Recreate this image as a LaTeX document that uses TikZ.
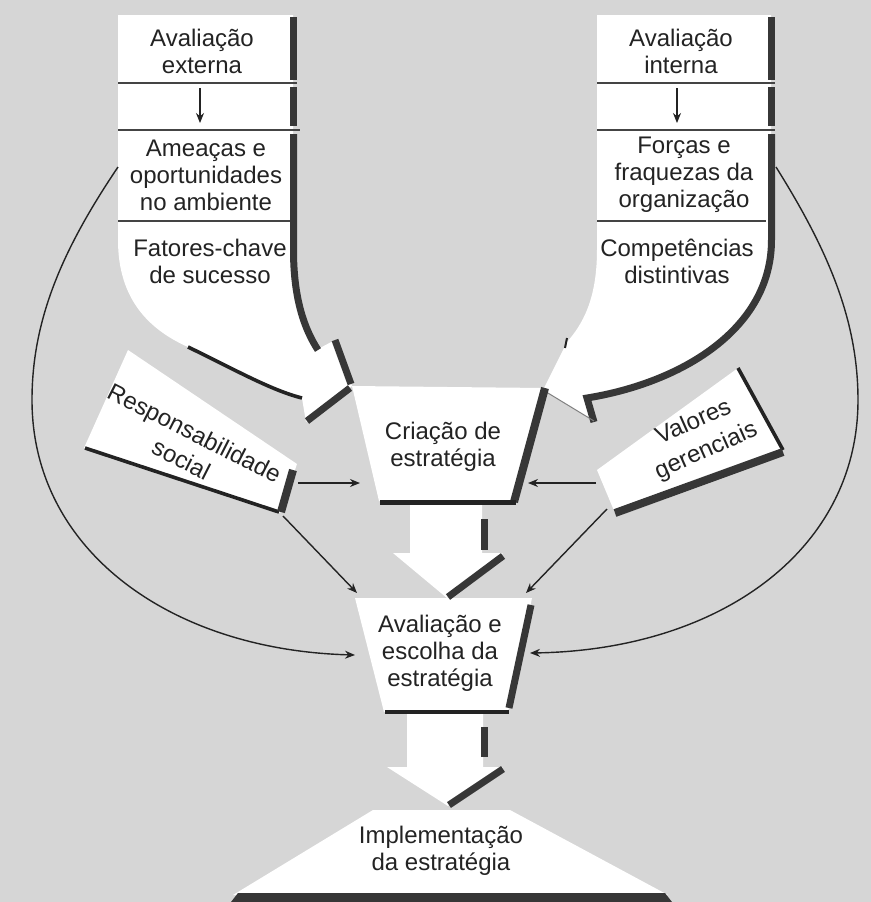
\documentclass[tikz,border=0pt]{standalone}
\usepackage{fontspec}
\setmainfont{Liberation Sans}
\usepackage{xcolor}
\usepackage{tikz}
\usetikzlibrary{arrows.meta}
\definecolor{paper}{RGB}{214,214,214}
\definecolor{ink}{RGB}{35,35,35}
\definecolor{dark}{RGB}{55,55,55}

\begin{document}
\begin{tikzpicture}[x=0.5pt, y=-0.5pt, font=\fontsize{12}{13.5}\selectfont,
  lbl/.style={align=center, text=ink, inner sep=0pt},
  shadowbar/.style={draw=dark, line width=3.5pt},
  rim/.style={draw=ink, line width=1.8pt},
  divider/.style={draw=ink!85, line width=1pt},
  link/.style={draw=ink, line width=0.7pt, -{Stealth[length=5pt, width=4pt]}}]
  \useasboundingbox (0,0) rectangle (871,902);
  \fill[paper] (0,0) rectangle (871,902);

  % white shapes
  \fill[white] (118,15) -- (293,15) -- (293,250) .. controls (293,300) and (305,330) .. (320,348)
    -- (335,340) -- (352,386) -- (306,422) -- (302,398)
    .. controls (270,390) and (230,367) .. (188,347)
    .. controls (150,330) and (118,300) .. (118,240) -- cycle;
  \fill[white] (597,15) -- (771,15) -- (771,240) .. controls (771,330) and (680,382) .. (588,397)
    -- (595,422) -- (543,390) -- (567,342) .. controls (582,325) and (597,300) .. (597,250) -- cycle;
  \fill[white] (352,386) -- (545,388) -- (514,501) -- (379,501) -- cycle;
  \fill[white] (410,501) -- (482,501) -- (482,553) -- (503,553) -- (447,598) -- (393,553) -- (410,553) -- cycle;
  \fill[white] (355,598) -- (532,598) -- (508,712) -- (384,712) -- cycle;
  \fill[white] (407,712) -- (483,712) -- (483,767) -- (503,767) -- (448,806) -- (387,767) -- (407,767) -- cycle;
  \fill[white] (373,810) -- (510,810) -- (668,895) -- (233,895) -- cycle;
  \fill[white] (128,350) -- (297,464) -- (280,513) -- (84,448) -- cycle;
  \fill[white] (597,470) -- (738,368) -- (783,450) -- (615,513) -- cycle;

  % shadows
  \foreach \x in {293.5, 771.5} {
    \draw[shadowbar] (\x,17) -- (\x,80);
    \draw[shadowbar] (\x,87) -- (\x,126);
  }
  \draw[shadowbar] (293.5,134) -- (293.5,250) .. controls (293.5,300) and (305,330) .. (318,350);
  \draw[shadowbar] (335,340) -- (351,384);
  \draw[shadowbar] (350,388) -- (307,421);
  \draw[rim] (188,347) .. controls (230,367) and (270,390) .. (302,398);
  \draw[shadowbar] (771.5,134) -- (771.5,240) .. controls (771.5,330) and (680,383) .. (587,398) -- (594,422);
  \draw[rim, line width=1pt] (567,338) -- (565,348);
  \draw[gray, line width=0.5pt] (543,390) -- (594,421);
  \draw[shadowbar, line width=4pt] (545,388) -- (514,502);
  \draw[rim, line width=2.5pt] (380,502) -- (516,502);
  \draw[shadowbar] (484,519) -- (484,550);
  \draw[shadowbar] (503,556) -- (448,597);
  \draw[shadowbar] (531,605) -- (509,708);
  \draw[rim, line width=2pt] (385,712) -- (509,712);
  \draw[shadowbar] (484,727) -- (484,757);
  \draw[shadowbar] (503,769) -- (449,805);
  \fill[dark] (238,893) -- (665,893) -- (672,902) -- (231,902) -- cycle;
  \draw[rim] (85,448) -- (279,512);
  \draw[shadowbar, line width=4pt] (293,470) -- (281,512);
  \draw[rim] (738,368) -- (783,450);
  \draw[shadowbar, line width=4pt] (783,452) -- (615,513);

  \foreach \y/\l/\r in {83/297/775, 130/300/775, 221/290/766} {
    \draw[divider] (118,\y) -- (\l,\y);
    \draw[divider] (597,\y) -- (\r,\y);
  }

  % texts
  \node[lbl] (ext) at (202,51) {Avaliação\\externa};
  \node[lbl] (ameacas) at (206,175) {Ameaças e\\oportunidades\\no ambiente};
  \node[lbl] (fatores) at (210,261) {Fatores-chave\\de sucesso};
  \node[lbl] (int) at (681,51) {Avaliação\\interna};
  \node[lbl] (forcas) at (684,175) {Forças e\\fraquezas da\\organização};
  \node[lbl] (compet) at (677,261) {Competências\\distintivas};
  \node[lbl] (criacao) at (443,447) {Criação de\\estratégia};
  \node[lbl] (escolha) at (440,653) {Avaliação e\\escolha da\\estratégia};
  \node[lbl] (implem) at (441,851) {Implementação\\da estratégia};
  \node[lbl, rotate=-27] (resp) at (188,446) {Responsabilidade\\[1pt]social};
  \node[lbl, rotate=24] (valores) at (700,437) {Valores\\[2pt]gerenciais};

  % connectors
  \coordinate (extS) at (200,88);
  \coordinate (ameacasN) at (200,123);
  \coordinate (intS) at (677,88);
  \coordinate (forcasN) at (677,123);
  \coordinate (ameacasW) at (118,167);
  \coordinate (forcasE) at (776,167);
  \coordinate (respE) at (298,483);
  \coordinate (respSE) at (283,516);
  \coordinate (valW) at (596,483);
  \coordinate (valSW) at (607,509);
  \coordinate (criacaoW) at (360,483);
  \coordinate (criacaoE) at (528,483);
  \coordinate (escolhaNW) at (357,593);
  \coordinate (escolhaNE) at (526,593);
  \coordinate (escolhaW) at (355,655);
  \coordinate (escolhaE) at (530,653);
  \draw[link] (extS) -- (ameacasN);
  \draw[link] (intS) -- (forcasN);
  \draw[link] (respE) -- (criacaoW);
  \draw[link] (valW) -- (criacaoE);
  \draw[link] (respSE) -- (escolhaNW);
  \draw[link] (valSW) -- (escolhaNE);
  \draw[link] (ameacasW) .. controls (62,250) and (32,320) .. (32,400)
    .. controls (32,550) and (170,650) .. (escolhaW);
  \draw[link] (forcasE) .. controls (828,250) and (858,320) .. (858,400)
    .. controls (858,550) and (720,650) .. (escolhaE);
\end{tikzpicture}
\end{document}
